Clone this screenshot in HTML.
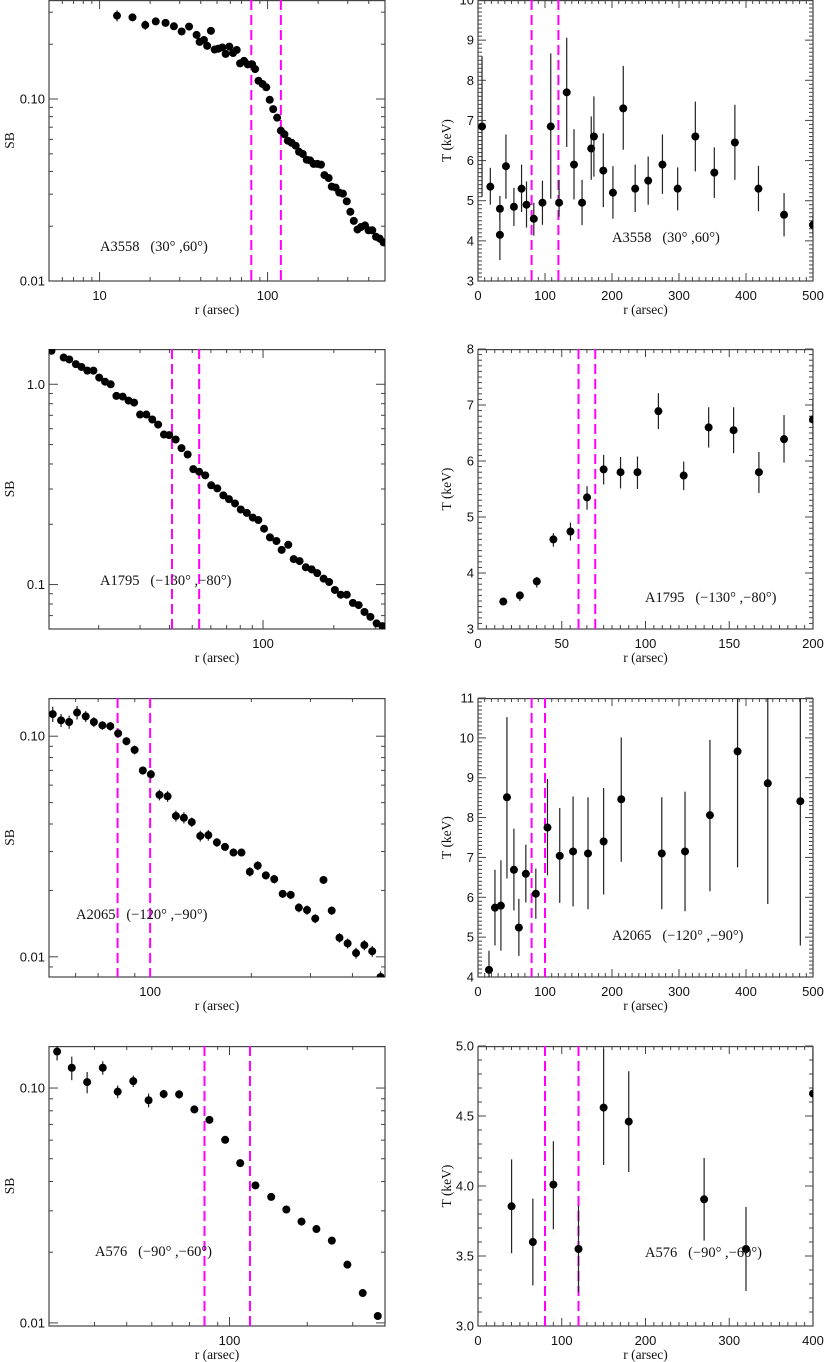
<!DOCTYPE html>
<html><head><meta charset="utf-8"><style>
html,body{margin:0;padding:0;background:#fff;}
svg{display:block;}
svg text{white-space:pre;}
</style></head><body>
<svg id="fig" xmlns="http://www.w3.org/2000/svg" width="825" height="1362" viewBox="0 0 825 1362"></svg>
<script>
// ---------- A3558 ----------
const a3558R = [12.7,15.7,18.7,21.6,24.7,27.7,30.8,34.1,37.8,39.4,41.8,43.7,46.0,48.4,50.9,53.8,56.3,59.2,62.3,65.5,68.6,72.4,76.2,80.9,84.3,88.3,93.3,98.2,103,108,114,120,126,132,139,147,154,162,171,179,188,198,208,218,231,241,254,267,281,296,311,326,343,360,380,399,420,442,465,490];
const a3558SB = [0.287,0.281,0.255,0.267,0.262,0.251,0.235,0.250,0.225,0.206,0.211,0.196,0.237,0.187,0.189,0.192,0.177,0.194,0.179,0.186,0.157,0.162,0.155,0.155,0.146,0.126,0.121,0.116,0.099,0.088,0.079,0.067,0.064,0.059,0.0575,0.0554,0.0513,0.0499,0.0464,0.046,0.044,0.044,0.0436,0.0382,0.0368,0.033,0.0326,0.0306,0.0302,0.0274,0.024,0.0214,0.0192,0.0198,0.0202,0.019,0.019,0.0175,0.0171,0.0163];
const a3558SBErr = [0.02,0.012,0.015,0.012,0.008,0.008,0.008,0.008,0.008,0.008,0.008,0.007,0.007,0.006,0.006,0.006,0.006,0.006,0.005,0.005];
const a3558TR = [6,18.4,32.7,32.7,41.7,53.6,65,72.4,83.3,96.2,108.6,121,132.4,143.3,155.3,169,173,187,201.4,216.8,234.6,254,275.3,298,324.4,352.7,383.4,418.6,456.8,500];
const a3558T = [6.85,5.35,4.8,4.15,5.86,4.85,5.3,4.9,4.55,4.95,6.85,4.95,7.7,5.9,4.95,6.3,6.6,5.75,5.2,7.3,5.3,5.5,5.9,5.3,6.6,5.7,6.45,5.3,4.65,4.4];
const a3558THi = [8.6,5.82,5.12,4.7,6.65,5.32,5.9,5.48,4.95,5.5,8.67,5.52,9.06,6.78,5.52,7.1,7.6,6.68,5.86,8.36,5.9,6.1,6.65,5.83,7.47,6.33,7.39,5.87,5.19,4.65];
const a3558TLo = [5.1,4.9,4.5,3.52,5.05,4.37,4.72,4.33,4.13,4.4,5.05,4.6,6.34,5.03,4.39,5.52,5.6,4.84,4.55,6.27,4.72,4.9,5.17,4.76,5.73,5.07,5.52,4.74,4.11,4.15];
const a3558Cuts = [80,120];
// ---------- A1795 ----------
const a1795R = [12.6,14.2,15.0,16.0,16.9,17.9,19.0,20.1,21.3,22.5,23.8,25.3,26.8,28.3,30.0,31.9,33.8,35.8,37.9,39.9,42.5,45.0,47.8,50.5,53.5,56.8,60.2,63.9,67.8,71.6,76.0,80.4,85.3,90.4,95.5,101,107,114,120,128,135,143,152,161,170,181,191,202,214,227,241,255,270,286,304,322];
const a1795SB = [1.47,1.36,1.33,1.26,1.22,1.17,1.17,1.08,1.03,1.00,0.875,0.868,0.829,0.810,0.706,0.706,0.667,0.629,0.561,0.557,0.530,0.480,0.446,0.377,0.366,0.351,0.313,0.302,0.279,0.267,0.254,0.237,0.228,0.216,0.210,0.190,0.172,0.165,0.149,0.158,0.134,0.131,0.122,0.119,0.114,0.107,0.103,0.094,0.089,0.089,0.081,0.079,0.073,0.069,0.064,0.062];
const a1795SBErr = [];
const a1795TR = [15.1,25,35.1,45,55.2,65.1,75,85.1,95.2,107.7,122.8,137.7,152.6,167.7,182.7,200];
const a1795T = [3.49,3.6,3.85,4.6,4.74,5.35,5.85,5.8,5.8,6.89,5.74,6.6,6.55,5.8,6.39,6.74];
const a1795THi = [3.52,3.67,3.93,4.71,4.9,5.55,6.11,6.07,6.08,7.21,5.99,6.96,6.96,6.16,6.82,7.1];
const a1795TLo = [3.46,3.5,3.74,4.47,4.58,5.13,5.58,5.51,5.5,6.57,5.48,6.24,6.14,5.43,5.97,6.4];
const a1795CutsSB = [41,53.5];
const a1795CutsT = [60,70];
// ---------- A2065 ----------
const a2065R = [51.3,54.3,57.4,60.6,64.3,68.0,72.1,76.1,80.3,85.0,89.9,95.1,100.5,106.6,112.7,119.3,126,133,141,149,158,167,177,187,198,209,221,234,248,262,277,293,310,328,347,366,387,410,434,458,485];
const a2065SB = [0.126,0.118,0.116,0.128,0.123,0.116,0.112,0.111,0.103,0.0949,0.0867,0.0699,0.0672,0.0542,0.0534,0.0435,0.0427,0.0408,0.0353,0.0356,0.033,0.0315,0.0297,0.0297,0.0243,0.0259,0.0234,0.0225,0.0193,0.0191,0.0167,0.0163,0.0149,0.0223,0.0162,0.0122,0.0115,0.0104,0.0113,0.0106,0.0081];
const a2065SBErr = [0.01,0.008,0.008,0.009,0.007,0.006,0.005,0.005,0.004,0.004,0.004,0.003,0.003,0.003,0.003,0.0025,0.0025,0.002,0.002,0.002,0.0015,0.0012,0.0012,0.0012,0.0012,0.0012,0.001,0.001,0.0008,0.0008,0.0008,0.0008,0.0007,0.0008,0.0007,0.0006,0.0006,0.0006,0.0006,0.0006,0.0005];
const a2065TR = [16.4,25.3,34.2,43.2,53.6,61,71.4,86.3,103.7,122,141.9,164.2,187.5,213.8,274.3,309,346.2,387.4,432.5,481.1];
const a2065T = [4.18,5.74,5.79,8.51,6.69,5.24,6.59,6.09,7.75,7.04,7.15,7.1,7.4,8.46,7.1,7.15,8.06,9.66,8.86,8.41];
const a2065THi = [4.66,6.69,6.93,10.52,7.72,5.96,7.32,6.72,8.97,8.24,8.53,8.51,8.74,10.01,8.51,8.65,9.95,12,12,12];
const a2065TLo = [3.9,4.79,4.66,6.47,5.67,4.53,5.87,5.46,6.55,5.86,5.77,5.7,6.07,6.89,5.7,5.65,6.15,6.75,5.83,4.79];
const a2065Cuts = [80,100];
// ---------- A576 ----------
const a576R = [21.5,24.5,28.1,32.3,36.9,42.4,48.6,55.6,63.8,73.1,83.6,96.2,110,126,145,166,190,217,249,286,328,375];
const a576SB = [0.143,0.122,0.106,0.122,0.0965,0.107,0.0887,0.0943,0.094,0.0811,0.0732,0.0602,0.0479,0.0385,0.0344,0.0304,0.027,0.0251,0.0224,0.0177,0.0134,0.0107];
const a576SBErr = [0.012,0.014,0.011,0.008,0.006,0.006,0.006,0.004,0.004,0.003,0.002,0.001,0.001,0.001,0.0008,0.0007,0.0006,0.0005,0.0005,0.0004,0.0003,0.0003];
const a576TR = [40.1,65.5,90,120,150,180,270,320,400];
const a576T = [3.855,3.6,4.01,3.55,4.56,4.46,3.905,3.55,4.66];
const a576THi = [4.19,3.91,4.32,3.86,4.98,4.82,4.2,3.85,4.98];
const a576TLo = [3.52,3.29,3.69,3.24,4.15,4.1,3.61,3.25,4.3];
const a576Cuts = [80,120];

const NS = 'http://www.w3.org/2000/svg';
const svg = document.getElementById('fig');
function mk(tag, attrs, parent){const e=document.createElementNS(NS,tag);for(const k in attrs)e.setAttribute(k,attrs[k]);(parent||svg).appendChild(e);return e;}
function logScale(d0,d1,p0,p1){const a=Math.log10(d0),b=Math.log10(d1);return v=>p0+(Math.log10(v)-a)/(b-a)*(p1-p0);}
function linScale(d0,d1,p0,p1){return v=>p0+(v-d0)/(d1-d0)*(p1-p0);}
let clipId=0;

function panel(cfg){
  const g=mk('g',{});
  
  
  const {x0,x1,y0,y1}=cfg.box;
  const sx = cfg.xlog?logScale(cfg.xd[0],cfg.xd[1],x0,x1):linScale(cfg.xd[0],cfg.xd[1],x0,x1);
  const sy = cfg.ylog?logScale(cfg.yd[0],cfg.yd[1],y1,y0):linScale(cfg.yd[0],cfg.yd[1],y1,y0);
  const cid='c'+(clipId++);
  const cp=mk('clipPath',{id:cid},g); mk('rect',{x:x0,y:y0,width:x1-x0,height:y1-y0},cp);
  const tg=mk('g',{stroke:'#444','stroke-width':1},g);
  
  
  function xt(v,len){const x=sx(v);if(x<x0-0.5||x>x1+0.5)return;mk('line',{x1:x,y1:y1,x2:x,y2:y1-len},tg);mk('line',{x1:x,y1:y0,x2:x,y2:y0+len},tg);}
  function yt(v,len){const y=sy(v);if(y<y0-0.5||y>y1+0.5)return;mk('line',{x1:x0,y1:y,x2:x0+len,y2:y},tg);mk('line',{x1:x1,y1:y,x2:x1-len,y2:y},tg);}
  function logTicks(d,fn){for(let e=-3;e<=3;e++){for(let k=1;k<10;k++){const v=k*Math.pow(10,e);if(v>=d[0]*0.999&&v<=d[1]*1.001)fn(v,k===1?9:4);}}}
  function linTicks(d,maj,min,fn){for(let v=d[0];v<=d[1]+1e-9;v+=min){const r=Math.abs(v/maj-Math.round(v/maj))<1e-6;fn(v,r?8:4);}}
  if(cfg.xlog)logTicks(cfg.xd,xt);else linTicks(cfg.xd,cfg.xmaj,cfg.xmin,xt);
  if(cfg.ylog)logTicks(cfg.yd,yt);else linTicks(cfg.yd,cfg.ymaj,cfg.ymin,yt);
  const fr=mk('rect',{x:x0,y:y0+0.6,width:x1-x0,height:y1-y0-0.6,fill:'none',stroke:'#444','stroke-width':1.2},g);
  
  
  cfg.xlabels.forEach(v=>{const t=mk('text',{x:sx(v),y:y1+19,'text-anchor':'middle','font-family':'Liberation Sans, sans-serif','font-size':13,fill:'#111'},g);t.textContent=cfg.xfmt?cfg.xfmt(v):String(v);
    
    });
  cfg.ylabels.forEach(v=>{const t=mk('text',{x:x0-4,y:sy(v)+4.5,'text-anchor':'end','font-family':'Liberation Sans, sans-serif','font-size':13,fill:'#111'},g);t.textContent=cfg.yfmt(v);
    
    });
  const xl=mk('text',{x:(x0+x1)/2,y:y1+33,'text-anchor':'middle','font-family':'Liberation Serif, serif','font-size':13.5,fill:'#111'},g);
  xl.textContent='r (arsec)';
  
  
  const ly=(y0+y1)/2, lx=cfg.ytitleX;
  const yl=mk('text',{x:lx,y:ly,'text-anchor':'middle','font-family':'Liberation Serif, serif','font-size':13.5,fill:'#111',transform:`rotate(-90 ${lx} ${ly})`},g);
  yl.textContent=cfg.ytitle;
  
  
  const dg=mk('g',{'clip-path':`url(#${cid})`},g);
  cfg.cuts.forEach(c=>{const l=mk('line',{x1:sx(c),y1:y0,x2:sx(c),y2:y1,stroke:'#ff00ff','stroke-width':2,'stroke-dasharray':'10,5'},dg);
    
    });
  const pg=mk('g',{'clip-path':`url(#${cid})`},g);
  cfg.xs.forEach((xv,i)=>{
    const cx=sx(xv), cy=sy(cfg.ys[i]);
    let hi=null,lo=null;
    if(cfg.hi){hi=cfg.hi[i];lo=cfg.lo[i];}
    else if(cfg.err && cfg.err[i]!==undefined){hi=cfg.ys[i]+cfg.err[i];lo=cfg.ys[i]-cfg.err[i];}
    if(hi!==null){const b=mk('line',{x1:cx,y1:sy(hi),x2:cx,y2:sy(lo),stroke:'#222','stroke-width':1.2},pg);
      
      }
    const p=mk('circle',{cx:cx,cy:cy,r:4,fill:'#000'},pg);
    
    
  });
  const an=mk('text',{x:cfg.ann[0],y:cfg.ann[1],'font-family':'Liberation Serif, serif','font-size':14.5,fill:'#111'},g);
  an.textContent=cfg.annText;
  
  
}
const f2=v=>v.toFixed(2), f1=v=>v.toFixed(1);
const L={x0:49,x1:385}, R={x0:478,x1:813};
const rows=[[0,281],[349,629],[698,977],[1046,1326]];

panel({name:'a3558-sb-panel',box:{...L,y0:rows[0][0],y1:rows[0][1]},xlog:true,ylog:true,xd:[5,500],yd:[0.01,0.35],
  xlabels:[10,100],ylabels:[0.01,0.1],yfmt:f2,ytitle:'SB',ytitleX:14,cuts:a3558Cuts,xs:a3558R,ys:a3558SB,err:a3558SBErr,
  ann:[100,251],annText:'A3558   (30° ,60°)'});
panel({name:'a3558-t-panel',box:{...R,y0:rows[0][0],y1:rows[0][1]},xd:[0,500],yd:[3,10],xmaj:100,xmin:10,ymaj:1,ymin:0.1,
  xlabels:[0,100,200,300,400,500],ylabels:[3,4,5,6,7,8,9,10],yfmt:v=>String(v),ytitle:'T (keV)',ytitleX:451,cuts:a3558Cuts,
  xs:a3558TR,ys:a3558T,hi:a3558THi,lo:a3558TLo,ann:[612,242],annText:'A3558   (30° ,60°)'});
panel({name:'a1795-sb-panel',box:{...L,y0:rows[1][0],y1:rows[1][1]},xlog:true,ylog:true,xd:[12.3,330],yd:[0.06,1.5],
  xlabels:[100],ylabels:[0.1,1],yfmt:f1,ytitle:'SB',ytitleX:14,cuts:a1795CutsSB,xs:a1795R,ys:a1795SB,err:a1795SBErr,
  ann:[100,585],annText:'A1795   (−130° ,−80°)'});
panel({name:'a1795-t-panel',box:{...R,y0:rows[1][0],y1:rows[1][1]},xd:[0,200],yd:[3,8],xmaj:50,xmin:5,ymaj:1,ymin:0.1,
  xlabels:[0,50,100,150,200],ylabels:[3,4,5,6,7,8],yfmt:v=>String(v),ytitle:'T (keV)',ytitleX:451,cuts:a1795CutsT,
  xs:a1795TR,ys:a1795T,hi:a1795THi,lo:a1795TLo,ann:[645,602],annText:'A1795   (−130° ,−80°)'});
panel({name:'a2065-sb-panel',box:{...L,y0:rows[2][0],y1:rows[2][1]},xlog:true,ylog:true,xd:[50,500],yd:[0.0081,0.149],
  xlabels:[100],ylabels:[0.01,0.1],yfmt:f2,ytitle:'SB',ytitleX:14,cuts:a2065Cuts,xs:a2065R,ys:a2065SB,err:a2065SBErr,
  ann:[76,919],annText:'A2065   (−120° ,−90°)'});
panel({name:'a2065-t-panel',box:{...R,y0:rows[2][0],y1:rows[2][1]},xd:[0,500],yd:[4,11],xmaj:100,xmin:10,ymaj:1,ymin:0.1,
  xlabels:[0,100,200,300,400,500],ylabels:[4,5,6,7,8,9,10,11],yfmt:v=>String(v),ytitle:'T (keV)',ytitleX:451,cuts:a2065Cuts,
  xs:a2065TR,ys:a2065T,hi:a2065THi,lo:a2065TLo,ann:[612,940],annText:'A2065   (−120° ,−90°)'});
panel({name:'a576-sb-panel',box:{...L,y0:rows[3][0],y1:rows[3][1]},xlog:true,ylog:true,xd:[20,400],yd:[0.0097,0.151],
  xlabels:[100],ylabels:[0.01,0.1],yfmt:f2,ytitle:'SB',ytitleX:14,cuts:a576Cuts,xs:a576R,ys:a576SB,err:a576SBErr,
  ann:[95,1256],annText:'A576   (−90° ,−60°)'});
panel({name:'a576-t-panel',box:{...R,y0:rows[3][0],y1:rows[3][1]},xd:[0,400],yd:[3,5],xmaj:100,xmin:10,ymaj:0.5,ymin:0.1,
  xlabels:[0,100,200,300,400],ylabels:[3,3.5,4,4.5,5],yfmt:f1,ytitle:'T (keV)',ytitleX:451,cuts:a576Cuts,
  xs:a576TR,ys:a576T,hi:a576THi,lo:a576TLo,ann:[645,1257],annText:'A576   (−90° ,−60°)'});
</script>
</body></html>
